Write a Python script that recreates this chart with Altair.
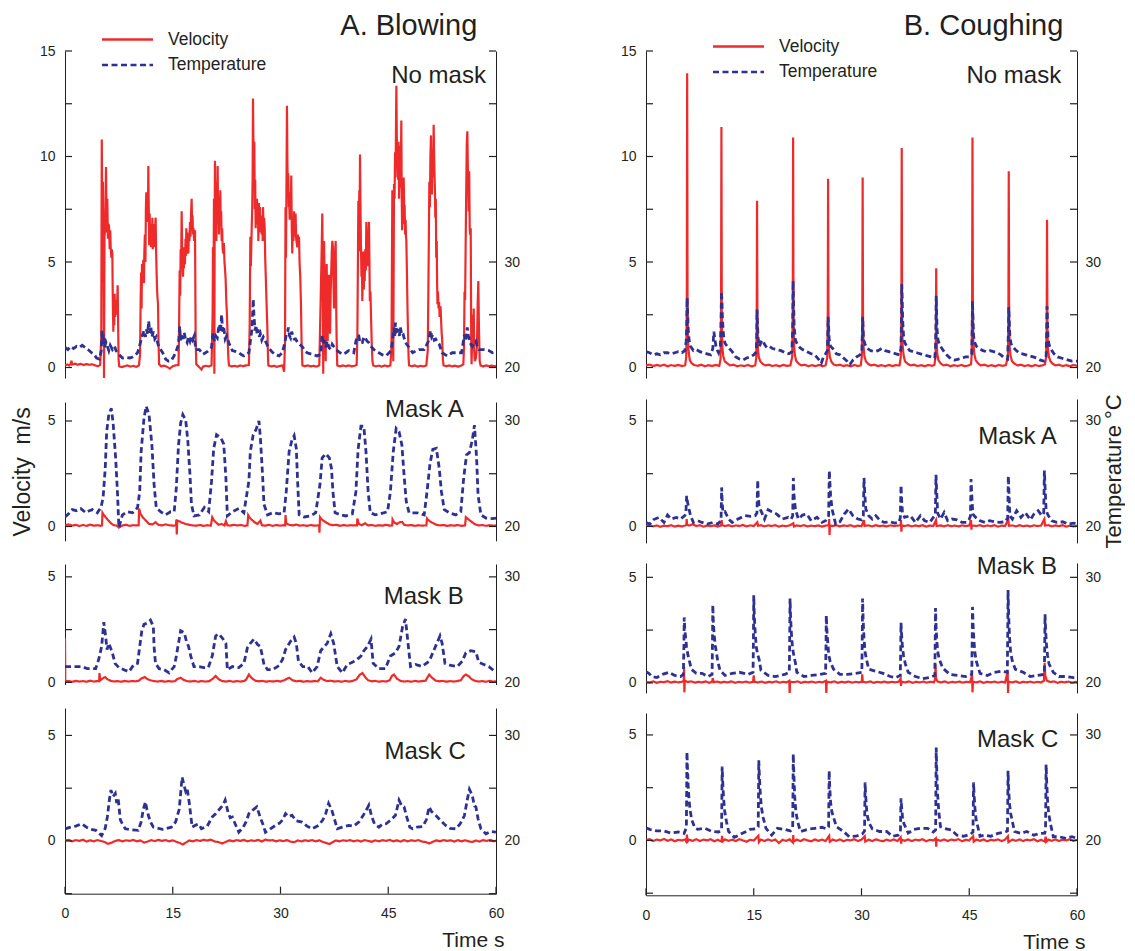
import altair as alt
import pandas as pd

FONT = "Liberation Sans"
INK = "#231f20"
RED = "#ee2a2b"
BLUE = "#2e3191"

SERIES = ["Velocity", "Temperature"]
COLUMN_TITLES = ["A. Blowing", "B. Coughing"]
PANEL_NAMES = ["No mask", "Mask A", "Mask B", "Mask C"]
TIME_TICKS = [0, 15, 30, 45, 60]
V_TICKS = [-2.5, 0, 2.5, 5, 7.5, 10, 12.5, 15]
V_LABELS = [0, 5, 10, 15]
T_LABELS = [20, 30]

# ---------------- A. Blowing ----------------
A_NM_V = [(0.0,0.10),(0.3,0.14),(0.6,0.10),(0.8,0.18),(0.9,0.32),(1.0,0.14),(1.4,0.18),(1.8,0.13),(2.2,0.17),(2.6,0.12),(3.0,0.16),(3.4,0.13),(3.8,0.15),(4.2,0.10),(4.6,0.06),(4.9,0.12),
(5.05,1.5),(5.12,10.8),(5.2,6.5),(5.28,8.8),(5.36,5.7),(5.43,-0.5),(5.5,6.2),(5.6,6.6),(5.71,9.5),(5.8,6.4),(5.89,8.0),(5.97,6.1),(6.05,6.8),(6.13,6.7),(6.22,5.6),(6.3,6.5),(6.36,5.7),(6.45,5.2),(6.52,5.6),(6.59,5.4),(6.66,3.0),(6.73,1.7),(6.8,3.0),(6.86,2.0),(6.91,3.5),(6.98,2.4),(7.05,3.2),(7.15,2.5),(7.25,3.0),(7.33,3.9),(7.4,2.0),(7.46,0.4),(7.55,0.05),
(7.9,0.02),(8.3,0.06),(8.7,0.1),(9.1,0.04),(9.5,0.08),(9.9,0.03),(10.3,0.1),
(10.45,0.6),(10.53,3.2),(10.6,4.5),(10.66,2.8),(10.72,4.9),(10.8,4.2),(10.9,5.1),(11.0,4.0),(11.04,5.4),(11.12,6.3),(11.2,5.0),(11.26,7.5),(11.32,8.3),(11.4,6.9),(11.48,8.0),(11.55,7.2),(11.6,9.55),(11.66,7.6),(11.72,5.8),(11.79,7.3),(11.85,6.2),(11.92,6.8),(11.97,5.7),(12.04,6.4),(12.1,5.9),(12.16,7.1),(12.22,5.6),(12.3,6.6),(12.39,6.1),(12.46,6.8),(12.52,5.7),(12.58,6.9),(12.62,7.1),(12.69,5.4),(12.76,4.4),(12.83,3.6),(12.9,3.2),(12.95,3.0),(13.02,1.2),(13.1,0.15),
(13.4,0.05),(13.8,0.09),(14.2,0.03),(14.6,-0.05),(15.0,0.06),(15.4,0.1),(15.8,0.12),
(15.87,1.5),(15.96,4.6),(16.04,3.4),(16.1,5.6),(16.17,4.9),(16.24,7.4),(16.3,5.8),(16.37,4.8),(16.43,4.3),(16.5,5.2),(16.55,4.7),(16.61,5.7),(16.7,4.9),(16.78,6.1),(16.84,5.3),(16.89,6.6),(16.96,5.8),(17.03,6.4),(17.1,5.5),(17.17,5.4),(17.24,6.3),(17.32,6.0),(17.4,6.9),(17.47,6.2),(17.55,7.3),(17.63,8.0),(17.7,6.5),(17.76,7.2),(17.82,6.3),(17.9,6.6),(17.97,6.0),(18.04,6.4),(18.1,6.5),(18.16,3.0),(18.19,1.3),(18.28,0.15),
(18.6,0.05),(19.0,-0.1),(19.2,0.04),(19.6,0.08),(20.0,0.05),(20.4,0.1),
(20.55,2.5),(20.6,5.7),(20.67,3.2),(20.74,8.0),(20.79,-0.3),(20.84,7.2),(20.88,9.8),(20.95,7.5),(21.01,8.8),(21.07,6.0),(21.14,7.9),(21.2,6.8),(21.25,9.55),(21.31,7.1),(21.38,8.1),(21.44,6.3),(21.5,7.5),(21.56,7.0),(21.62,8.4),(21.68,6.9),(21.74,7.4),(21.81,6.0),(21.88,6.6),(21.95,5.6),(22.04,5.4),(22.12,5.9),(22.2,5.0),(22.27,4.7),(22.36,4.2),(22.46,3.1),(22.55,2.5),(22.65,1.25),(22.75,0.4),(22.83,0.1),
(23.2,0.05),(23.6,0.08),(24.0,0.04),(24.4,0.1),(24.8,0.06),(25.2,0.1),(25.6,0.12),
(25.71,2.0),(25.8,6.2),(25.88,4.8),(25.99,6.6),(26.06,7.5),(26.12,9.0),(26.17,12.75),(26.22,11.0),(26.28,9.3),(26.36,10.7),(26.42,7.5),(26.48,8.9),(26.54,6.6),(26.6,7.2),(26.67,7.0),(26.73,8.0),(26.8,6.8),(26.86,7.5),(26.92,6.0),(27.0,7.8),(27.08,6.5),(27.15,7.6),(27.22,6.4),(27.3,7.0),(27.38,6.3),(27.45,7.2),(27.52,6.0),(27.57,7.6),(27.64,6.4),(27.72,7.1),(27.8,6.6),(27.87,5.2),(27.94,4.4),(28.02,3.5),(28.1,2.6),(28.17,1.9),(28.25,0.6),(28.31,0.1),
(28.7,0.05),(29.1,0.08),(29.5,0.03),(29.9,0.07),(30.3,0.1),(30.5,-0.2),
(30.63,1.2),(30.7,7.6),(30.76,5.2),(30.84,9.0),(30.9,12.4),(30.96,9.8),(31.02,8.2),(31.08,9.2),(31.15,7.6),(31.2,8.0),(31.28,7.0),(31.35,8.3),(31.42,7.1),(31.5,9.1),(31.57,6.6),(31.64,5.4),(31.72,6.9),(31.8,6.0),(31.88,7.4),(31.95,6.5),(32.03,6.2),(32.1,7.3),(32.18,6.1),(32.26,5.9),(32.34,5.7),(32.42,6.3),(32.5,5.8),(32.58,6.2),(32.66,4.9),(32.75,4.3),(32.85,3.0),(32.93,1.25),(33.05,0.1),
(33.4,0.06),(33.8,0.1),(34.2,0.05),(34.6,0.08),(35.0,0.04),(35.4,0.1),
(35.59,3.15),(35.7,5.0),(35.82,7.3),(35.9,3.5),(35.95,-0.3),(36.0,3.8),(36.06,6.0),(36.14,4.2),(36.2,2.0),(36.29,0.3),(36.36,3.0),(36.43,4.9),(36.5,2.5),(36.57,1.25),(36.63,3.0),(36.7,4.0),(36.75,4.4),(36.82,2.8),(36.9,1.6),(36.98,3.5),(37.06,4.5),(37.14,5.5),(37.22,6.0),(37.3,5.7),(37.38,4.0),(37.45,2.8),(37.52,4.5),(37.6,5.4),(37.68,6.0),(37.74,3.5),(37.8,1.6),(37.9,0.1),
(38.3,0.05),(38.7,0.1),(39.1,0.06),(39.5,0.1),(39.9,0.05),(40.3,0.08),(40.6,0.12),
(40.7,1.5),(40.76,4.2),(40.84,7.9),(40.9,5.5),(40.97,8.4),(41.02,6.9),(41.07,10.1),(41.13,7.8),(41.19,6.0),(41.27,4.3),(41.33,5.2),(41.39,3.15),(41.46,4.4),(41.52,5.5),(41.6,3.7),(41.66,5.1),(41.72,4.1),(41.8,5.6),(41.88,4.6),(41.95,6.9),(42.02,5.1),(42.1,5.5),(42.17,4.8),(42.24,6.2),(42.32,6.9),(42.38,5.0),(42.44,3.15),(42.52,3.6),(42.6,2.5),(42.69,1.25),(42.8,0.3),(42.9,0.1),
(43.3,0.05),(43.7,0.09),(44.1,0.04),(44.5,0.1),(44.9,0.05),(45.3,0.1),
(45.45,1.0),(45.57,8.4),(45.62,3.0),(45.7,0.3),(45.76,5.0),(45.8,8.7),(45.88,8.0),(45.95,10.2),(46.02,9.0),(46.08,11.5),(46.13,13.35),(46.19,11.0),(46.25,9.8),(46.3,10.1),(46.38,8.9),(46.44,10.7),(46.5,8.0),(46.57,9.5),(46.63,8.5),(46.7,10.5),(46.76,9.6),(46.82,11.7),(46.88,8.0),(46.93,6.5),(46.99,7.8),(47.05,6.8),(47.1,8.5),(47.15,9.0),(47.22,7.6),(47.28,7.7),(47.35,6.3),(47.42,7.0),(47.47,6.2),(47.52,6.0),(47.6,4.5),(47.68,2.8),(47.76,1.5),(47.83,0.5),(47.89,0.1),
(48.3,0.06),(48.7,0.1),(49.1,0.04),(49.5,0.08),(49.9,0.05),(50.3,0.1),
(50.5,0.8),(50.58,3.5),(50.65,6.0),(50.72,8.8),(50.8,7.6),(50.87,10.0),(50.95,11.0),(51.02,9.2),(51.08,8.2),(51.14,9.6),(51.2,10.3),(51.26,9.0),(51.32,11.5),(51.38,10.2),(51.44,9.15),(51.5,8.4),(51.55,7.1),(51.62,8.0),(51.68,5.2),(51.75,6.0),(51.8,4.1),(51.85,3.0),(51.92,3.6),(52.0,2.8),(52.08,3.1),(52.15,2.4),(52.2,2.5),(52.28,2.9),(52.36,2.2),(52.44,1.6),(52.52,1.25),(52.6,0.4),(52.7,0.1),
(53.1,0.06),(53.5,0.1),(53.9,0.05),(54.3,0.09),(54.7,0.04),(55.1,0.08),(55.45,0.15),
(55.55,1.0),(55.62,3.6),(55.7,3.2),(55.78,6.0),(55.85,8.2),(55.93,10.6),(56.01,11.2),(56.08,9.5),(56.14,8.6),(56.2,7.4),(56.27,9.3),(56.34,6.6),(56.4,6.3),(56.48,6.6),(56.55,1.25),(56.6,0.15),(56.7,1.8),(56.78,2.5),(56.84,1.2),(56.9,2.8),(56.96,0.8),(57.05,0.3),(57.2,0.45),(57.35,1.0),(57.45,3.0),(57.54,4.1),(57.62,2.0),(57.73,0.3),(57.85,0.1),
(58.2,0.05),(58.6,0.1),(59.0,0.06),(59.4,0.09),(59.8,0.05),(60.0,0.08)]

A_NM_T = [(0.0,21.9),(0.4,21.7),(0.8,22.0),(1.2,21.8),(1.6,22.0),(2.0,21.9),(2.4,22.1),(2.8,21.9),(3.2,21.7),(3.7,21.4),(4.1,21.2),(4.4,20.9),(4.8,20.8),(5.05,21.6),(5.15,23.5),(5.25,22.5),(5.35,23.2),(5.5,21.9),(5.7,22.4),(5.9,22.0),(6.1,21.6),(6.3,22.1),(6.6,21.7),(6.9,22.0),(7.1,21.6),(7.5,21.25),(8.0,20.9),(8.5,20.95),(9.0,20.9),(9.4,21.0),(9.8,21.2),(10.1,21.4),(10.5,22.35),(10.8,23.1),(11.0,23.5),(11.2,22.9),(11.35,23.6),(11.5,23.2),(11.65,24.4),(11.8,23.3),(11.95,23.9),(12.1,22.9),(12.3,23.4),(12.5,22.7),(12.7,22.9),(12.9,22.3),(13.1,21.9),(13.6,21.4),(14.0,20.8),(14.4,20.6),(14.7,20.6),(15.1,21.0),(15.4,21.4),(15.8,22.2),(15.96,23.9),(16.1,22.6),(16.3,23.2),(16.45,22.7),(16.6,23.3),(16.8,22.6),(17.0,22.35),(17.2,22.9),(17.4,22.5),(17.55,22.9),(17.75,22.6),(18.0,23.0),(18.2,21.7),(18.7,21.7),(19.2,21.25),(19.8,21.5),(20.4,21.9),(20.6,23.3),(20.8,22.5),(21.0,23.0),(21.2,22.8),(21.35,23.6),(21.5,24.1),(21.65,23.3),(21.8,25.0),(21.95,23.4),(22.1,23.8),(22.3,22.7),(22.5,23.0),(22.8,22.35),(23.3,21.6),(23.8,21.5),(24.2,21.4),(24.6,21.2),(24.9,21.1),(25.3,21.3),(25.6,21.4),(26.0,23.5),(26.1,24.8),(26.2,26.5),(26.3,25.0),(26.45,23.5),(26.6,24.0),(26.75,23.1),(26.9,23.6),(27.05,22.9),(27.2,23.2),(27.4,22.6),(27.6,22.9),(27.9,22.5),(28.1,22.2),(28.3,21.9),(28.8,21.5),(29.2,21.25),(29.8,21.1),(30.25,21.4),(30.6,22.35),(30.8,23.1),(31.0,23.4),(31.1,23.8),(31.25,23.0),(31.4,22.8),(31.55,23.4),(31.7,23.1),(31.9,22.7),(32.1,22.7),(32.35,22.4),(32.6,22.2),(33.0,22.0),(33.4,21.6),(33.7,21.4),(34.4,21.25),(35.1,21.1),(35.6,21.25),(35.8,23.1),(35.95,22.2),(36.1,22.6),(36.3,21.9),(36.5,22.5),(36.75,21.9),(37.0,21.7),(37.2,22.2),(37.4,22.0),(37.65,21.8),(37.9,21.6),(38.6,21.25),(39.1,21.4),(39.5,21.6),(40.2,21.4),(40.5,22.5),(40.7,23.0),(40.9,23.0),(41.1,22.3),(41.4,22.35),(41.6,22.9),(41.8,22.8),(42.05,22.5),(42.3,22.35),(42.6,22.0),(43.0,21.7),(43.7,21.4),(44.2,21.2),(44.7,21.1),(45.4,21.6),(45.6,22.6),(45.8,23.8),(45.9,23.0),(46.0,24.25),(46.2,23.4),(46.4,23.5),(46.55,23.0),(46.7,23.8),(46.9,23.0),(47.1,23.1),(47.25,22.7),(47.4,22.35),(47.9,21.9),(48.4,21.4),(48.9,21.6),(49.3,21.7),(50.0,21.7),(50.6,22.5),(50.75,23.0),(50.9,23.5),(51.05,22.9),(51.2,23.1),(51.4,22.6),(51.6,22.7),(51.85,22.4),(52.1,22.2),(52.5,21.4),(53.2,21.1),(53.9,21.4),(54.6,21.4),(55.2,21.4),(55.6,23.1),(55.8,22.5),(56.0,23.8),(56.15,23.0),(56.3,22.7),(56.5,22.2),(56.7,22.0),(56.95,22.3),(57.2,22.5),(57.4,21.9),(57.6,21.7),(58.3,21.7),(59.0,21.6),(59.5,21.4),(60.0,21.5)]

A_MA_V = [(0.0,0.05),(0.5,0.1),(1.0,0.04),(1.5,0.08),(2.0,0.02),(2.5,0.07),(3.0,0.03),(3.5,0.09),(4.0,0.04),(4.5,0.06),(5.0,0.03),(5.15,0.05),(5.22,0.65),(5.4,0.55),(5.7,0.42),(6.0,0.3),(6.4,0.15),(6.8,0.06),(7.2,0.04),(7.5,-0.05),(8.0,0.05),(8.5,0.08),(9.0,0.03),(9.5,0.06),(10.0,0.05),(10.25,0.06),(10.32,0.85),(10.5,0.6),(10.8,0.45),(11.2,0.3),(11.7,0.12),(12.2,0.1),(12.6,0.2),(13.0,0.08),(13.5,0.05),(14.0,0.1),(14.5,0.06),(15.0,0.04),(15.45,0.05),(15.5,0.33),(15.56,-0.38),(15.62,0.28),(15.9,0.25),(16.3,0.18),(16.8,0.12),(17.3,0.08),(17.8,0.05),(18.3,0.04),(18.8,0.07),(19.3,0.03),(19.8,0.06),(20.3,0.04),(20.5,0.44),(20.7,0.3),(21.0,0.2),(21.4,0.08),(21.8,0.12),(22.2,0.05),(22.4,0.25),(22.6,0.06),(23.0,0.04),(23.5,0.08),(24.0,0.05),(24.5,0.07),(25.0,0.03),(25.4,0.05),(25.5,0.54),(25.7,0.42),(26.0,0.32),(26.4,0.2),(26.8,0.12),(27.2,0.28),(27.4,0.06),(27.9,0.04),(28.4,0.08),(28.9,0.03),(29.4,0.07),(29.9,0.04),(30.4,0.06),(30.65,0.05),(30.7,0.54),(30.8,0.15),(31.2,0.08),(31.7,0.05),(32.2,0.09),(32.7,0.04),(33.2,0.06),(33.7,0.03),(34.2,0.07),(34.7,0.04),(35.2,0.05),(35.38,0.06),(35.42,-0.3),(35.5,0.44),(35.7,0.35),(36.0,0.27),(36.4,0.18),(36.8,0.1),(37.3,0.06),(37.8,0.08),(38.3,0.03),(38.8,0.07),(39.3,0.04),(39.8,0.06),(40.3,0.05),(40.65,0.05),(40.7,0.38),(40.9,0.12),(41.3,0.06),(41.8,0.15),(42.2,0.05),(42.7,0.07),(43.2,0.03),(43.7,0.06),(44.2,0.04),(44.7,0.08),(45.2,0.04),(45.55,0.05),(45.6,0.33),(45.8,0.2),(46.2,0.12),(46.6,0.2),(46.95,0.22),(47.2,0.08),(47.7,0.05),(48.2,0.07),(48.7,0.03),(49.2,0.06),(49.7,0.04),(50.3,0.05),(50.4,0.38),(50.6,0.3),(50.9,0.22),(51.3,0.15),(51.7,0.08),(52.2,0.05),(52.7,0.07),(53.2,0.03),(53.7,0.06),(54.2,0.04),(54.7,0.07),(55.2,0.03),(55.7,0.05),(55.8,0.44),(56.0,0.38),(56.3,0.3),(56.7,0.2),(57.1,0.1),(57.6,0.05),(58.1,0.07),(58.6,0.03),(59.1,0.06),(59.6,0.04),(60.0,0.05)]

A_MA_T = [(0.0,20.9),(0.5,21.2),(1.0,21.6),(1.6,21.5),(2.2,21.7),(2.9,21.3),(3.4,21.5),(3.8,21.6),(4.5,21.3),(5.0,21.8),(5.3,22.7),(5.6,25.5),(5.8,29.0),(6.1,30.6),(6.45,31.2),(6.7,29.8),(7.05,26.5),(7.3,23.3),(7.5,19.9),(8.0,21.1),(8.7,21.4),(9.4,21.3),(10.1,21.8),(10.4,23.3),(10.6,27.1),(11.0,30.3),(11.3,31.4),(11.7,30.6),(12.1,27.7),(12.4,24.0),(12.7,21.8),(13.3,21.4),(14.0,21.1),(14.7,21.4),(15.2,21.4),(15.5,23.7),(15.8,27.7),(16.1,29.8),(16.4,30.6),(16.8,30.1),(17.1,28.1),(17.4,24.9),(17.6,22.1),(17.96,21.0),(18.7,21.1),(19.4,21.8),(20.0,21.4),(20.4,24.3),(20.7,27.4),(21.1,28.7),(21.7,28.4),(22.1,27.8),(22.4,24.6),(22.6,21.0),(23.3,21.4),(24.2,21.7),(24.9,21.3),(25.6,24.3),(25.8,27.1),(26.2,28.7),(26.6,29.2),(27.0,30.0),(27.2,28.4),(27.5,24.9),(27.7,22.1),(28.2,21.1),(28.9,21.3),(29.8,21.2),(30.5,21.3),(30.8,23.3),(31.2,27.1),(31.6,28.2),(31.9,28.6),(32.2,27.4),(32.4,24.0),(32.6,21.1),(33.3,20.9),(34.2,21.0),(34.9,21.3),(35.5,24.0),(35.8,26.5),(36.3,26.9),(36.8,26.5),(37.1,25.5),(37.3,23.3),(37.6,21.3),(38.4,21.1),(39.1,21.0),(40.0,21.2),(40.5,23.3),(40.8,27.3),(41.2,29.5),(41.6,29.5),(41.9,27.1),(42.2,23.3),(42.5,21.3),(43.2,21.1),(43.9,21.2),(44.9,21.4),(45.3,23.3),(45.7,27.1),(46.1,29.3),(46.5,29.0),(46.9,27.7),(47.2,24.9),(47.5,22.4),(47.9,21.3),(49.0,21.3),(50.0,21.1),(50.4,23.3),(50.8,25.9),(51.2,27.3),(51.7,27.4),(52.1,25.5),(52.4,23.3),(52.8,21.6),(53.5,21.3),(54.4,21.1),(55.1,21.4),(55.5,24.6),(55.9,26.8),(56.3,27.0),(56.7,28.2),(57.0,29.6),(57.3,26.5),(57.5,23.0),(57.9,21.1),(58.6,20.8),(59.5,20.75),(60.0,20.8)]

A_MB_V = [(0.0,2.1),(0.04,0.05),(0.5,0.06),(1.0,0.03),(1.5,0.07),(2.0,0.04),(2.5,0.06),(3.0,0.03),(3.5,0.08),(4.0,0.04),(4.5,0.06),(4.75,0.05),(4.8,0.44),(4.9,0.1),(5.3,0.2),(5.6,0.25),(5.9,0.15),(6.3,0.08),(6.8,0.04),(7.3,0.06),(7.8,0.03),(8.3,0.07),(8.8,0.04),(9.3,0.06),(9.8,0.05),(10.3,0.08),(10.6,0.18),(11.1,0.25),(11.5,0.15),(11.9,0.1),(12.4,0.06),(12.9,0.04),(13.4,0.07),(13.9,0.03),(14.4,0.06),(14.9,0.04),(15.3,0.06),(15.6,0.15),(16.1,0.22),(16.5,0.12),(17.0,0.06),(17.5,0.04),(18.0,0.07),(18.5,0.03),(19.0,0.06),(19.5,0.04),(20.0,0.05),(20.5,0.15),(20.97,0.3),(21.4,0.15),(21.9,0.06),(22.4,0.04),(22.9,0.07),(23.4,0.03),(23.9,0.06),(24.4,0.04),(24.9,0.06),(25.2,0.12),(25.6,0.37),(26.0,0.2),(26.5,0.08),(27.0,0.05),(27.5,0.07),(28.0,0.03),(28.5,0.06),(29.0,0.04),(29.5,0.07),(30.0,0.04),(30.5,0.1),(31.2,0.22),(31.7,0.1),(32.2,0.05),(32.7,0.07),(33.2,0.03),(33.7,0.06),(34.2,0.04),(34.7,0.06),(35.2,0.05),(35.6,0.22),(36.0,0.12),(36.5,0.06),(37.0,0.08),(37.5,0.04),(38.0,0.06),(38.5,0.03),(39.0,0.07),(39.5,0.04),(40.0,0.06),(40.6,0.15),(41.0,0.35),(41.4,0.44),(41.8,0.25),(42.2,0.1),(42.7,0.05),(43.2,0.07),(43.7,0.03),(44.2,0.06),(44.7,0.04),(45.2,0.1),(45.5,0.3),(45.8,0.37),(46.2,0.18),(46.7,0.07),(47.2,0.04),(47.7,0.06),(48.2,0.03),(48.7,0.07),(49.2,0.04),(49.7,0.06),(50.2,0.08),(50.7,0.37),(51.1,0.22),(51.6,0.08),(52.1,0.05),(52.6,0.07),(53.1,0.03),(53.6,0.06),(54.1,0.04),(54.6,0.06),(55.1,0.1),(55.5,0.3),(55.8,0.37),(56.2,0.3),(56.6,0.15),(57.1,0.07),(57.6,0.04),(58.1,0.06),(58.6,0.03),(59.1,0.07),(59.6,0.04),(60.0,0.05)]

A_MB_T = [(0.0,21.5),(1.1,21.5),(2.3,21.5),(3.1,21.3),(4.27,21.3),(4.7,22.2),(5.1,23.4),(5.4,25.7),(5.6,24.7),(5.85,23.1),(6.1,23.7),(6.6,22.8),(6.96,21.8),(7.5,21.4),(8.2,21.2),(8.9,21.0),(9.6,21.7),(10.1,21.8),(10.4,23.4),(10.7,24.9),(11.0,25.5),(11.5,25.65),(11.9,25.9),(12.3,25.3),(12.4,23.4),(12.6,21.8),(13.1,21.3),(13.8,21.2),(14.5,20.9),(15.2,21.5),(15.5,22.5),(15.9,24.1),(16.1,24.9),(16.6,24.7),(16.9,23.9),(17.2,23.4),(17.5,22.5),(17.95,21.5),(18.7,21.5),(19.3,21.4),(19.95,21.4),(20.5,22.5),(20.97,24.4),(21.4,24.6),(21.9,24.2),(22.4,23.7),(22.6,21.2),(23.3,21.5),(24.2,21.4),(24.9,21.8),(25.4,23.3),(25.8,23.7),(26.3,24.1),(26.8,23.6),(27.2,23.4),(27.7,21.7),(28.2,21.2),(28.9,21.2),(29.8,21.6),(30.3,22.2),(30.7,23.1),(31.4,23.9),(31.9,24.3),(32.2,23.7),(32.5,22.0),(33.1,21.5),(33.8,21.5),(34.4,20.9),(35.1,21.5),(35.6,23.0),(36.1,23.4),(36.5,23.7),(37.0,24.6),(37.4,23.7),(37.9,21.5),(38.6,20.9),(39.3,21.7),(40.0,21.9),(40.7,22.2),(41.2,22.5),(41.6,23.0),(42.1,23.4),(42.6,24.1),(42.9,21.8),(43.7,21.3),(44.6,21.3),(45.3,22.5),(46.0,22.8),(46.5,23.4),(47.0,25.3),(47.4,26.0),(47.8,23.4),(48.1,21.5),(48.8,21.7),(49.7,21.5),(50.7,22.0),(51.2,22.8),(51.7,23.6),(52.2,24.4),(52.5,23.7),(52.9,21.8),(53.7,21.6),(54.6,21.5),(55.3,22.0),(55.8,22.8),(56.5,23.0),(57.2,22.9),(57.6,21.9),(58.3,21.7),(59.0,21.5),(59.9,21.0)]

A_MC_V = [(0.0,0.02),(0.5,0.05),(1.0,-0.02),(1.5,0.04),(2.0,0.0),(2.5,0.06),(3.0,-0.03),(3.5,0.03),(4.0,-0.02),(4.5,0.04),(5.0,0.0),(5.5,-0.05),(6.0,-0.14),(6.5,-0.08),(7.0,0.0),(7.5,0.04),(8.0,-0.02),(8.5,0.03),(9.0,0.0),(9.5,0.05),(10.0,-0.02),(10.5,0.02),(11.0,-0.08),(11.5,-0.03),(12.0,0.04),(12.5,-0.01),(13.0,0.05),(13.5,0.0),(14.0,0.04),(14.5,-0.02),(15.0,0.03),(15.5,-0.04),(16.0,-0.1),(16.4,-0.17),(16.8,-0.08),(17.3,0.02),(17.8,-0.02),(18.3,0.04),(18.8,0.0),(19.3,0.05),(19.8,0.02),(20.3,0.06),(20.8,-0.02),(21.3,-0.05),(21.9,-0.12),(22.4,-0.04),(22.9,0.03),(23.4,-0.02),(23.9,0.04),(24.4,0.0),(24.9,0.05),(25.4,-0.02),(25.9,0.03),(26.4,0.0),(26.9,0.05),(27.4,-0.03),(27.9,0.06),(28.4,0.02),(28.9,0.04),(29.4,-0.02),(29.9,0.03),(30.4,-0.01),(30.9,0.04),(31.4,-0.03),(31.9,-0.06),(32.4,0.02),(32.9,-0.02),(33.4,0.03),(33.9,0.0),(34.4,0.04),(34.9,-0.02),(35.4,0.03),(35.9,-0.05),(36.4,-0.1),(36.8,-0.15),(37.2,-0.07),(37.7,0.02),(38.2,-0.02),(38.7,0.03),(39.2,0.0),(39.7,0.04),(40.2,-0.02),(40.7,0.03),(41.2,-0.03),(41.7,0.04),(42.2,0.0),(42.7,-0.04),(43.2,0.03),(43.7,-0.02),(44.2,0.04),(44.7,0.0),(45.2,0.05),(45.7,-0.02),(46.2,0.03),(46.7,-0.03),(47.2,0.04),(47.7,-0.02),(48.2,0.03),(48.7,0.0),(49.2,0.04),(49.7,-0.03),(50.2,-0.05),(50.7,-0.12),(51.2,-0.04),(51.7,0.03),(52.2,-0.02),(52.7,0.04),(53.2,0.0),(53.7,0.03),(54.2,-0.03),(54.7,0.04),(55.2,-0.02),(55.7,0.03),(56.2,-0.02),(56.7,-0.05),(57.2,0.02),(57.7,-0.03),(58.2,0.04),(58.7,0.0),(59.2,0.05),(59.7,-0.02),(60.0,0.02)]

A_MC_T = [(0.0,21.15),(0.8,21.3),(1.5,21.4),(2.3,21.63),(3.0,21.3),(3.6,21.1),(4.3,21.0),(5.1,20.5),(5.6,21.2),(5.9,22.3),(6.2,24.0),(6.4,24.82),(6.7,24.2),(7.0,24.5),(7.2,23.6),(7.4,24.03),(7.7,22.0),(8.0,21.6),(8.4,21.15),(9.3,21.05),(10.2,21.0),(10.6,21.8),(10.9,23.0),(11.2,23.71),(11.4,23.0),(11.6,22.43),(11.9,21.8),(12.3,21.31),(13.0,21.2),(13.6,21.1),(14.0,21.15),(14.8,21.3),(15.4,21.8),(15.9,23.0),(16.3,26.04),(16.6,25.2),(16.8,24.7),(17.0,24.98),(17.3,23.6),(17.7,21.31),(18.2,21.5),(18.6,21.6),(19.0,21.15),(19.8,21.4),(20.5,22.27),(21.0,22.6),(21.5,23.0),(22.0,23.4),(22.3,23.87),(22.7,22.7),(23.0,22.2),(23.3,22.27),(23.7,21.6),(24.2,20.83),(24.8,21.3),(25.2,21.8),(25.6,22.59),(26.1,22.9),(26.7,23.23),(27.2,22.2),(27.6,21.5),(27.9,20.83),(28.5,21.1),(29.3,21.47),(29.9,21.7),(30.3,22.0),(30.7,22.59),(31.1,22.3),(31.6,22.43),(32.2,21.9),(33.0,21.79),(33.7,21.4),(34.4,21.15),(35.3,21.47),(35.9,22.0),(36.3,22.6),(36.7,23.55),(37.1,23.0),(37.5,22.1),(37.9,21.15),(38.6,21.3),(39.5,21.47),(40.2,21.4),(40.9,21.79),(41.5,22.4),(42.0,23.0),(42.3,23.39),(42.7,22.3),(43.1,21.6),(43.7,21.31),(44.2,21.6),(44.7,21.63),(45.4,22.0),(46.0,22.43),(46.5,23.87),(46.9,23.3),(47.2,23.23),(47.6,22.2),(48.0,21.3),(48.4,21.15),(49.0,21.3),(49.8,21.37),(50.3,22.0),(50.7,23.23),(51.0,22.8),(51.6,22.43),(52.2,22.0),(53.0,21.47),(53.6,21.2),(54.4,21.15),(55.0,21.6),(55.6,22.4),(56.0,23.9),(56.3,24.89),(56.7,24.3),(57.0,23.3),(57.2,23.23),(57.5,22.1),(57.9,21.15),(58.6,20.67),(59.3,20.9),(60.0,20.83)]

# ---------------- B. Coughing ----------------
B_NM_V = [(0.0,0.1),(0.5,0.14),(1.0,0.07),(1.5,0.12),(2.0,0.08),(2.5,0.13),(3.0,0.06),(3.5,0.11),(4.0,0.08),(4.5,0.12),(5.0,0.07),(5.45,0.1),(5.6,0.5),(5.68,3.0),(5.73,13.95),(5.78,3.5),(5.84,1.3),(5.95,0.7),(6.1,0.35),(6.35,0.2),(6.7,0.12),(7.2,0.08),(7.7,0.13),(8.2,0.06),(8.7,0.11),(9.2,0.07),(9.7,0.12),(10.2,0.08),(10.38,0.4),(10.45,2.5),(10.5,11.4),(10.55,2.8),(10.62,1.0),(10.75,0.55),(10.95,0.3),(11.3,0.2),(11.7,0.1),(12.2,0.13),(12.7,0.06),(13.2,0.1),(13.7,0.07),(14.2,0.12),(14.7,0.05),(15.2,0.1),(15.35,0.45),(15.41,2.0),(15.46,7.9),(15.51,2.4),(15.58,0.9),(15.7,0.5),(15.9,0.3),(16.2,0.18),(16.6,0.1),(17.1,0.13),(17.6,0.07),(18.1,0.11),(18.6,0.06),(19.1,0.12),(19.6,0.08),(20.1,0.1),(20.35,0.5),(20.43,2.6),(20.48,10.9),(20.53,3.0),(20.6,1.1),(20.72,0.6),(20.9,0.32),(21.2,0.2),(21.6,0.1),(22.1,0.13),(22.6,0.06),(23.1,0.11),(23.6,0.07),(24.1,0.12),(24.6,0.06),(25.0,0.1),(25.22,0.45),(25.3,2.2),(25.35,8.95),(25.4,2.5),(25.47,0.9),(25.6,0.5),(25.8,0.28),(26.1,0.15),(26.5,0.1),(27.0,0.13),(27.5,0.07),(28.0,0.11),(28.5,0.05),(29.0,0.12),(29.5,0.07),(29.9,0.1),(30.04,0.5),(30.11,2.3),(30.16,9.0),(30.21,2.6),(30.28,1.0),(30.4,0.55),(30.6,0.3),(30.9,0.18),(31.3,0.1),(31.8,0.13),(32.3,0.07),(32.8,0.11),(33.3,0.06),(33.8,0.12),(34.3,0.07),(34.8,0.11),(35.3,0.1),(35.47,0.5),(35.55,2.5),(35.6,10.4),(35.65,2.9),(35.72,1.1),(35.85,0.6),(36.05,0.3),(36.4,0.18),(36.8,0.1),(37.3,0.13),(37.8,0.07),(38.3,0.11),(38.8,0.06),(39.3,0.12),(39.8,0.08),(40.15,0.12),(40.3,0.5),(40.36,1.6),(40.4,4.7),(40.45,1.5),(40.53,0.7),(40.7,0.35),(41.0,0.2),(41.4,0.1),(41.9,0.13),(42.4,0.06),(42.9,0.11),(43.4,0.07),(43.9,0.12),(44.4,0.06),(44.9,0.1),(45.25,0.15),(45.33,0.6),(45.4,2.8),(45.45,10.9),(45.5,3.2),(45.57,1.2),(45.7,0.65),(45.9,0.35),(46.2,0.2),(46.6,0.1),(47.1,0.13),(47.6,0.07),(48.1,0.11),(48.6,0.06),(49.1,0.12),(49.6,0.08),(50.1,0.11),(50.38,0.5),(50.45,2.4),(50.5,9.3),(50.55,2.7),(50.62,1.0),(50.75,0.55),(50.95,0.3),(51.3,0.18),(51.7,0.1),(52.2,0.13),(52.7,0.07),(53.2,0.11),(53.7,0.06),(54.2,0.12),(54.7,0.07),(55.2,0.1),(55.55,0.15),(55.7,0.5),(55.78,2.0),(55.83,7.0),(55.88,2.2),(55.95,0.9),(56.1,0.5),(56.3,0.3),(56.6,0.18),(57.0,0.1),(57.5,0.13),(58.0,0.07),(58.5,0.11),(59.0,0.06),(59.5,0.12),(60.0,0.08)]

B_NM_T = [(0.0,21.5),(0.5,21.4),(1.0,21.2),(1.5,21.3),(2.0,21.2),(2.5,21.4),(3.0,21.4),(3.5,21.3),(4.0,21.4),(4.5,21.5),(5.0,21.4),(5.4,21.6),(5.6,22.5),(5.68,24.0),(5.73,26.6),(5.8,25.0),(5.88,23.6),(6.0,22.6),(6.2,22.0),(6.6,21.6),(7.0,21.7),(7.5,21.5),(8.0,21.4),(8.5,21.3),(9.0,21.2),(9.3,21.8),(9.45,23.4),(9.6,22.6),(9.8,21.8),(10.1,21.4),(10.35,22.0),(10.45,24.5),(10.5,27.2),(10.57,26.4),(10.65,24.5),(10.8,23.0),(11.0,22.3),(11.3,22.0),(11.6,21.8),(12.0,21.5),(12.5,21.0),(13.0,20.8),(13.5,20.7),(14.0,20.9),(14.5,21.0),(15.0,21.2),(15.35,21.5),(15.42,23.0),(15.46,25.5),(15.52,24.2),(15.6,22.8),(15.8,22.0),(16.0,22.4),(16.2,22.6),(16.5,22.2),(16.8,21.9),(17.2,22.0),(17.6,21.8),(18.2,21.7),(18.8,21.6),(19.4,21.4),(19.9,21.3),(20.3,21.5),(20.42,23.5),(20.48,28.2),(20.55,26.0),(20.63,23.8),(20.8,22.6),(21.0,22.3),(21.4,21.9),(21.8,21.7),(22.4,21.5),(23.0,21.3),(23.5,21.2),(24.0,20.8),(24.4,20.4),(24.7,21.0),(25.0,21.3),(25.25,21.6),(25.31,23.2),(25.35,24.8),(25.42,23.8),(25.5,22.7),(25.7,22.0),(26.0,21.8),(26.5,21.3),(27.0,21.2),(27.5,20.9),(28.0,20.6),(28.4,20.3),(28.8,20.7),(29.3,21.0),(29.8,21.2),(30.06,21.5),(30.12,23.2),(30.16,24.8),(30.22,23.6),(30.3,22.6),(30.5,22.2),(30.8,21.8),(31.3,21.6),(31.8,21.5),(32.3,21.6),(32.8,21.8),(33.3,21.6),(33.8,21.5),(34.3,21.4),(34.8,21.3),(35.3,21.2),(35.5,21.8),(35.56,24.5),(35.6,27.9),(35.66,26.6),(35.73,24.5),(35.85,23.0),(36.0,22.4),(36.3,22.0),(36.7,21.6),(37.2,21.5),(37.7,21.4),(38.2,21.3),(38.7,21.2),(39.2,21.1),(39.7,21.0),(40.2,20.9),(40.3,21.8),(40.36,24.0),(40.4,26.8),(40.46,25.2),(40.53,23.5),(40.65,22.6),(40.85,22.2),(41.2,21.8),(41.6,21.4),(42.0,21.1),(42.5,20.8),(43.0,20.7),(43.5,20.8),(44.0,20.9),(44.5,21.0),(45.0,21.0),(45.35,21.3),(45.41,23.5),(45.45,26.3),(45.51,24.8),(45.6,23.0),(45.75,22.4),(46.0,22.0),(46.4,21.8),(46.9,21.6),(47.4,21.5),(47.9,21.6),(48.4,21.5),(48.9,21.4),(49.4,21.2),(49.9,20.9),(50.35,20.8),(50.45,23.5),(50.5,25.7),(50.56,24.6),(50.65,23.0),(50.8,22.3),(51.0,22.0),(51.4,21.7),(51.9,21.4),(52.4,21.3),(52.9,21.2),(53.4,21.1),(53.9,21.0),(54.4,20.9),(54.9,20.7),(55.4,20.6),(55.7,21.0),(55.78,23.4),(55.83,25.8),(55.89,24.4),(55.97,22.8),(56.1,22.2),(56.4,21.7),(56.8,21.3),(57.3,21.0),(57.8,20.9),(58.3,20.8),(58.8,20.7),(59.3,20.6),(59.8,20.6),(60.0,20.6)]

B_MA_V = [(0.0,0.03),(0.5,0.06),(1.0,0.0),(1.5,0.05),(2.0,-0.02),(2.5,0.04),(3.0,0.01),(3.5,0.06),(4.0,-0.01),(4.5,0.04),(5.0,0.0),(5.5,0.05),(5.62,0.1),(5.66,0.35),(5.72,0.08),(6.0,0.04),(6.5,0.1),(7.0,0.02),(7.5,0.06),(8.0,-0.01),(8.5,0.04),(9.0,0.01),(9.5,0.05),(10.0,-0.01),(10.45,0.05),(10.53,0.3),(10.6,0.06),(11.0,0.02),(11.5,0.06),(12.0,0.0),(12.5,0.05),(13.0,0.02),(13.5,0.07),(14.0,0.0),(14.5,0.05),(15.0,0.02),(15.5,0.2),(15.6,0.03),(16.0,0.06),(16.5,0.0),(17.0,0.05),(17.5,0.02),(18.0,0.06),(18.5,-0.01),(19.0,0.04),(19.5,0.01),(20.0,0.05),(20.51,0.15),(20.6,0.0),(21.0,0.05),(21.5,0.02),(22.0,0.06),(22.5,0.0),(23.0,0.04),(23.5,0.01),(24.0,0.05),(24.5,-0.01),(25.0,0.04),(25.45,0.05),(25.5,0.35),(25.55,-0.4),(25.62,0.05),(26.0,0.02),(26.5,0.06),(27.0,0.0),(27.5,0.05),(28.0,0.02),(28.5,0.06),(29.0,-0.01),(29.5,0.04),(30.0,0.01),(30.35,0.3),(30.42,0.03),(31.0,0.05),(31.5,0.0),(32.0,0.06),(32.5,0.01),(33.0,0.04),(33.5,0.0),(34.0,0.05),(34.5,0.02),(35.0,0.04),(35.45,0.05),(35.5,0.3),(35.55,-0.25),(35.62,0.05),(36.0,0.02),(36.5,0.06),(37.0,0.0),(37.5,0.05),(38.0,0.01),(38.5,0.06),(39.0,-0.01),(39.5,0.04),(40.0,0.02),(40.37,0.3),(40.45,0.02),(41.0,0.05),(41.5,0.0),(42.0,0.06),(42.5,0.01),(43.0,0.04),(43.5,0.0),(44.0,0.05),(44.5,0.02),(45.0,0.04),(45.25,0.3),(45.3,-0.15),(45.36,0.05),(46.0,0.02),(46.5,0.06),(47.0,0.0),(47.5,0.05),(48.0,0.01),(48.5,0.06),(49.0,-0.01),(49.5,0.04),(50.0,0.02),(50.44,0.35),(50.52,0.03),(51.0,0.05),(51.5,0.0),(52.0,0.06),(52.5,0.01),(53.0,0.04),(53.5,0.0),(54.0,0.05),(54.5,0.02),(55.0,0.04),(55.46,0.35),(55.55,0.04),(56.0,0.06),(56.5,0.0),(57.0,0.05),(57.5,0.01),(58.0,0.06),(58.5,-0.01),(59.0,0.04),(59.5,0.0),(60.0,0.03)]

B_MA_T = [(0.0,20.38),(0.5,20.22),(1.0,20.63),(1.8,20.86),(2.5,20.38),(3.0,21.08),(3.5,20.7),(4.2,20.86),(4.8,20.7),(5.4,21.02),(5.55,21.2),(5.66,22.9),(5.75,22.4),(5.9,21.9),(6.2,21.02),(6.6,20.38),(7.2,20.54),(7.8,20.38),(8.5,20.22),(9.3,20.38),(10.0,20.22),(10.45,20.6),(10.53,23.7),(10.6,22.5),(10.7,21.33),(11.0,21.4),(11.5,20.7),(12.0,20.38),(12.8,20.7),(13.3,20.86),(13.8,21.02),(14.6,20.95),(15.2,21.02),(15.45,21.3),(15.55,24.4),(15.62,23.0),(15.75,21.81),(16.0,21.49),(16.5,20.7),(17.0,21.59),(17.5,21.4),(18.2,21.17),(19.0,20.7),(19.8,20.86),(20.2,20.7),(20.42,21.0),(20.51,24.6),(20.6,23.0),(20.8,21.65),(21.2,20.7),(21.8,21.08),(22.4,21.17),(23.0,20.54),(23.8,20.86),(24.5,20.38),(25.0,20.54),(25.42,21.0),(25.52,25.3),(25.6,24.2),(25.7,22.92),(25.9,21.65),(26.4,20.22),(27.0,20.44),(27.6,21.17),(28.2,21.65),(28.8,21.02),(29.5,20.7),(30.0,20.63),(30.25,21.0),(30.35,24.6),(30.45,23.2),(30.6,21.65),(31.0,21.02),(31.5,20.7),(32.0,21.02),(32.6,20.54),(33.2,20.38),(34.0,20.44),(34.6,20.32),(35.2,20.38),(35.4,20.8),(35.5,23.9),(35.58,22.6),(35.7,21.33),(36.0,20.86),(36.8,21.02),(37.5,20.38),(38.2,21.02),(38.8,20.54),(39.5,20.38),(40.0,20.86),(40.28,21.1),(40.37,24.9),(40.46,23.4),(40.6,21.27),(41.0,20.7),(41.5,21.33),(42.0,20.54),(42.6,20.7),(43.3,20.63),(44.0,20.38),(44.6,20.38),(45.0,20.7),(45.17,21.0),(45.25,24.5),(45.35,23.0),(45.5,21.17),(45.9,20.86),(46.5,20.54),(47.2,20.38),(47.8,20.54),(48.5,20.44),(49.2,20.38),(50.0,20.44),(50.35,20.8),(50.44,24.8),(50.52,23.3),(50.65,21.02),(51.0,20.7),(51.6,21.49),(52.2,20.86),(52.8,21.33),(53.5,20.63),(54.0,21.17),(54.6,21.49),(55.1,21.02),(55.37,21.3),(55.46,25.3),(55.55,23.8),(55.7,21.49),(56.0,21.02),(56.5,20.54),(57.2,20.38),(58.0,20.44),(58.8,20.22),(59.5,20.32),(60.0,20.22)]

B_MB_V = [(0.0,0.05),(0.5,0.02),(1.0,0.07),(1.5,0.0),(2.0,0.05),(2.5,0.03),(3.0,0.08),(3.5,0.01),(4.0,0.06),(4.5,0.02),(5.0,0.05),(5.25,0.1),(5.3,0.75),(5.34,-0.45),(5.4,0.1),(5.8,0.04),(6.3,0.07),(6.8,0.01),(7.3,0.05),(7.8,0.02),(8.3,0.07),(8.8,0.0),(9.2,0.05),(9.3,0.22),(9.4,0.03),(9.9,0.06),(10.4,0.01),(10.9,0.05),(11.4,0.02),(11.9,0.07),(12.4,0.0),(12.9,0.05),(13.4,0.02),(13.9,0.06),(14.4,0.01),(14.9,0.05),(15.0,0.35),(15.08,0.05),(15.6,0.02),(16.1,0.06),(16.6,0.0),(17.1,0.05),(17.6,0.02),(18.1,0.07),(18.6,0.01),(19.1,0.05),(19.6,0.02),(19.95,0.1),(20.0,-0.55),(20.06,0.05),(20.6,0.03),(21.1,0.07),(21.6,0.0),(22.1,0.05),(22.6,0.02),(23.1,0.06),(23.6,0.01),(24.1,0.05),(24.6,0.02),(25.05,0.1),(25.1,-0.5),(25.16,0.06),(25.7,0.02),(26.2,0.07),(26.7,0.0),(27.2,0.05),(27.7,0.02),(28.2,0.06),(28.7,0.01),(29.2,0.05),(29.7,0.02),(30.05,0.06),(30.1,0.4),(30.18,0.05),(30.7,0.02),(31.2,0.07),(31.7,0.0),(32.2,0.05),(32.7,0.02),(33.2,0.06),(33.7,0.01),(34.2,0.05),(34.7,0.02),(35.2,0.06),(35.45,0.2),(35.5,-0.15),(35.56,0.05),(36.1,0.02),(36.6,0.07),(37.1,0.0),(37.6,0.05),(38.1,0.02),(38.6,0.06),(39.1,0.01),(39.6,0.05),(40.1,0.03),(40.25,0.2),(40.3,0.9),(40.38,0.2),(40.6,0.06),(41.1,0.02),(41.6,0.07),(42.1,0.0),(42.6,0.05),(43.1,0.02),(43.6,0.06),(44.1,0.01),(44.6,0.05),(45.1,0.03),(45.4,0.35),(45.45,-0.45),(45.52,0.05),(46.0,0.02),(46.5,0.07),(47.0,0.0),(47.5,0.05),(48.0,0.02),(48.5,0.06),(49.0,0.01),(49.5,0.05),(50.0,0.02),(50.35,0.55),(50.4,-0.5),(50.46,0.05),(51.0,0.02),(51.5,0.07),(52.0,0.0),(52.5,0.05),(53.0,0.02),(53.5,0.06),(54.0,0.01),(54.5,0.05),(55.0,0.02),(55.4,0.1),(55.5,0.95),(55.58,0.35),(55.8,0.1),(56.3,0.04),(56.8,0.07),(57.3,0.0),(57.8,0.05),(58.3,0.02),(58.8,0.06),(59.3,0.01),(59.8,0.05),(60.0,0.03)]

B_MB_T = [(0.0,21.05),(0.4,20.9),(0.8,20.6),(1.5,20.5),(2.3,20.8),(3.2,21.0),(4.0,20.7),(4.8,20.6),(5.2,20.8),(5.28,23.5),(5.32,26.2),(5.4,25.0),(5.5,24.4),(5.65,23.4),(5.85,22.6),(6.0,22.2),(6.3,21.3),(7.0,20.9),(7.8,20.9),(8.6,20.6),(9.2,20.8),(9.26,24.0),(9.3,27.4),(9.38,25.6),(9.5,24.5),(9.65,23.5),(9.8,22.9),(10.0,22.0),(10.3,21.2),(11.0,20.7),(12.0,20.9),(13.0,21.0),(14.2,20.8),(14.9,21.0),(14.96,24.2),(15.0,28.3),(15.08,26.3),(15.2,24.8),(15.35,23.4),(15.55,22.7),(15.75,22.2),(16.0,21.2),(17.0,20.7),(18.0,20.6),(19.3,20.8),(19.95,21.0),(20.01,24.5),(20.05,28.0),(20.13,26.2),(20.25,24.6),(20.4,23.3),(20.6,22.5),(20.8,21.9),(21.0,21.0),(22.0,20.6),(23.0,20.7),(24.2,20.8),(25.0,20.9),(25.06,23.6),(25.1,26.4),(25.18,25.0),(25.3,23.8),(25.45,22.6),(25.65,22.0),(26.1,21.3),(27.0,20.8),(28.0,20.8),(29.2,20.9),(30.05,21.0),(30.11,24.5),(30.15,28.0),(30.23,26.0),(30.35,24.2),(30.5,22.9),(30.7,22.2),(31.0,21.3),(32.0,21.1),(33.0,20.9),(34.0,20.6),(34.8,20.5),(35.4,20.7),(35.46,23.2),(35.5,25.7),(35.58,24.6),(35.7,23.4),(35.85,22.6),(36.1,21.8),(36.5,21.0),(37.5,20.6),(38.5,20.4),(39.5,20.5),(40.2,20.7),(40.26,23.8),(40.3,27.1),(40.38,25.4),(40.5,23.8),(40.65,22.8),(40.85,22.2),(41.3,21.4),(42.3,20.8),(43.5,20.7),(44.5,20.6),(45.35,20.8),(45.41,24.0),(45.45,27.2),(45.53,25.6),(45.65,24.0),(45.8,22.8),(46.0,22.0),(46.5,20.9),(47.5,20.7),(48.5,21.0),(49.5,21.1),(50.3,21.0),(50.36,24.8),(50.4,28.8),(50.48,26.6),(50.6,24.4),(50.75,23.0),(50.95,22.2),(51.4,21.3),(52.5,21.0),(53.5,20.6),(54.5,20.7),(55.45,20.8),(55.51,23.6),(55.55,26.5),(55.63,25.0),(55.75,23.6),(55.9,22.6),(56.1,21.8),(56.7,21.0),(57.5,20.6),(58.5,20.6),(59.5,20.5),(60.0,20.5)]

B_MC_V = [(0.0,0.02),(0.5,0.06),(1.0,-0.03),(1.5,0.04),(2.0,0.0),(2.5,0.07),(3.0,-0.02),(3.5,0.05),(4.0,-0.04),(4.5,0.03),(5.0,0.0),(5.5,0.05),(5.65,-0.1),(5.7,0.28),(5.76,-0.06),(6.0,0.04),(6.5,-0.02),(7.0,0.06),(7.5,-0.03),(8.0,0.04),(8.5,0.0),(9.0,0.06),(9.5,-0.04),(10.0,0.03),(10.5,-0.05),(10.6,0.22),(10.68,-0.04),(11.0,0.05),(11.5,-0.02),(12.0,0.04),(12.5,-0.03),(13.0,0.06),(13.5,0.0),(14.0,-0.06),(14.5,0.03),(15.0,0.0),(15.65,0.22),(15.72,-0.08),(16.0,0.04),(16.5,-0.03),(17.0,0.05),(17.5,-0.02),(18.0,0.04),(18.5,-0.12),(19.0,0.03),(19.5,-0.02),(20.0,0.05),(20.45,-0.1),(20.5,0.25),(20.56,-0.05),(21.0,0.04),(21.5,-0.03),(22.0,0.06),(22.5,0.0),(23.0,-0.04),(23.5,0.05),(24.0,-0.02),(24.5,0.04),(25.0,-0.03),(25.5,0.22),(25.58,-0.06),(26.0,0.04),(26.5,-0.02),(27.0,0.05),(27.5,-0.04),(28.0,0.03),(28.5,0.0),(29.0,0.06),(29.5,-0.03),(30.0,0.04),(30.45,0.2),(30.52,-0.05),(31.0,0.04),(31.5,-0.03),(32.0,0.05),(32.5,0.0),(33.0,-0.04),(33.5,0.04),(34.0,-0.02),(34.5,0.05),(35.0,-0.03),(35.45,0.15),(35.52,-0.15),(35.6,0.04),(36.0,-0.02),(36.5,0.05),(37.0,-0.03),(37.5,0.04),(38.0,0.0),(38.5,0.06),(39.0,-0.04),(39.5,0.03),(40.0,0.0),(40.35,0.1),(40.4,-0.3),(40.46,0.05),(41.0,-0.02),(41.5,0.05),(42.0,-0.03),(42.5,0.04),(43.0,0.0),(43.5,0.06),(44.0,-0.04),(44.5,0.03),(45.0,0.0),(45.55,0.2),(45.62,-0.06),(46.0,0.04),(46.5,-0.02),(47.0,0.05),(47.5,-0.04),(48.0,0.03),(48.5,0.0),(49.0,0.05),(49.5,-0.03),(50.0,0.04),(50.38,0.2),(50.45,-0.08),(51.0,0.04),(51.5,-0.02),(52.0,0.05),(52.5,-0.03),(53.0,0.04),(53.5,0.0),(54.0,0.06),(54.5,-0.04),(55.0,0.03),(55.5,-0.05),(55.65,0.18),(55.72,-0.06),(56.0,0.04),(56.5,-0.02),(57.0,0.05),(57.5,-0.03),(58.0,0.04),(58.5,0.0),(59.0,0.06),(59.5,-0.02),(60.0,0.03)]

B_MC_T = [(0.0,21.2),(0.5,21.05),(1.5,20.9),(2.5,20.9),(3.5,20.7),(4.5,20.8),(5.3,20.67),(5.62,21.2),(5.66,24.5),(5.7,28.4),(5.78,26.8),(5.88,25.0),(6.0,23.8),(6.15,22.8),(6.4,21.9),(6.8,21.2),(7.2,21.05),(8.2,21.15),(9.2,20.85),(10.1,20.8),(10.52,21.0),(10.56,23.5),(10.6,27.0),(10.68,25.6),(10.8,24.0),(10.95,22.8),(11.2,21.8),(11.5,20.85),(12.3,20.3),(13.5,20.7),(14.5,21.05),(15.2,21.1),(15.62,21.3),(15.66,24.0),(15.7,27.6),(15.78,26.2),(15.9,24.6),(16.05,23.2),(16.3,22.2),(16.7,21.15),(17.5,20.5),(18.3,21.15),(19.3,21.05),(20.1,20.9),(20.42,21.2),(20.46,24.5),(20.5,28.2),(20.58,26.4),(20.7,24.2),(20.85,22.8),(21.1,21.8),(21.5,20.85),(22.5,21.05),(23.5,21.15),(24.5,21.25),(25.1,21.1),(25.42,21.3),(25.46,23.8),(25.5,26.6),(25.58,25.0),(25.7,23.6),(25.85,22.8),(26.1,22.2),(26.5,21.3),(27.5,20.85),(28.3,20.35),(29.2,20.4),(30.1,20.6),(30.42,20.9),(30.46,23.0),(30.5,25.5),(30.58,24.3),(30.7,23.0),(30.85,22.2),(31.1,21.6),(31.5,21.1),(32.5,20.85),(33.5,20.85),(34.3,20.4),(35.1,20.5),(35.42,20.8),(35.46,22.5),(35.5,24.0),(35.58,23.2),(35.7,22.3),(35.9,21.6),(36.5,20.7),(37.3,21.05),(38.2,21.15),(39.2,21.15),(40.0,20.8),(40.32,21.0),(40.36,24.8),(40.4,28.8),(40.48,26.6),(40.6,24.3),(40.75,22.8),(41.0,21.3),(41.5,21.15),(42.5,21.0),(43.3,20.5),(44.2,20.4),(45.2,20.6),(45.52,20.8),(45.56,23.2),(45.6,25.5),(45.68,24.3),(45.8,23.0),(45.95,22.0),(46.5,20.4),(47.2,20.5),(48.0,20.4),(49.0,20.67),(50.0,20.8),(50.32,20.9),(50.36,23.6),(50.4,26.6),(50.48,25.0),(50.6,23.5),(50.75,22.6),(51.0,21.8),(51.3,20.85),(52.2,20.67),(53.0,20.85),(54.0,20.5),(54.8,20.67),(55.5,20.7),(55.62,21.0),(55.66,24.0),(55.7,27.2),(55.78,25.6),(55.9,23.8),(56.05,22.6),(56.3,21.6),(56.7,20.35),(57.5,20.35),(58.5,20.2),(59.3,20.35),(60.0,20.2)]

# annotation anchors in data units (time s, velocity m/s)
TITLE_POS = [(57.4, 15.76), (58.1, 15.76)]
NAME_POS_A = [(58.6, 13.48), (55.5, 5.19), (55.5, 3.72), (55.8, 3.9)]
NAME_POS_B = [(57.8, 13.48), (57.2, 3.9), (57.2, 5.15), (57.4, 4.42)]

# ---------------- layout ----------------
K = 21.1      # px per m/s (same in every panel)
W = 431
DOM_A = [(-0.5, 15), (-0.68, 5.9), (-0.1, 5.61), (-2.5, 6.3)]
DOM_B = [(-0.5, 15), (-0.78, 6.04), (-0.48, 5.68), (-2.6, 6.04)]

LAB = dict(labelFont=FONT, labelFontSize=14, labelColor=INK)
TTL = dict(titleFont=FONT, titleFontWeight="normal", titleColor=INK)

# legend glyph: a horizontal stroke ~51 px long
LEGEND_GLYPH = "M-2.5,0H2.5"


def make_legend(lx, ly):
    return alt.Legend(title=None, orient="none", legendX=lx, legendY=ly, direction="vertical",
                      symbolType=LEGEND_GLYPH, symbolSize=416, symbolStrokeWidth=2.4,
                      labelFont=FONT, labelFontSize=17.5, labelColor=INK, labelOffset=29,
                      rowPadding=5.5, padding=0)


def make_panel(vel, temp, dom, name, name_pos, legend, title=None, title_pos=None,
               bottom=False, left_title=None, right_title=None):
    lo, hi = dom
    H = (hi - lo) * K
    xs = alt.Scale(domain=[0, 60], nice=False, zero=False)
    vs = alt.Scale(domain=[lo, hi], nice=False, zero=False)
    ts = alt.Scale(domain=[20 + 2 * lo, 20 + 2 * hi], nice=False, zero=False)
    if bottom:
        xaxis = alt.Axis(values=TIME_TICKS, ticks=False, tickSize=0, grid=False, domainColor=INK,
                         labelPadding=13, labelFlush=False, title="Time s", titleAnchor="end",
                         titleAlign="right", titleX=W + 8, titleY=53, titleBaseline="alphabetic",
                         titleFontSize=21, **TTL, **LAB)
    else:
        xaxis = None
    laxis = alt.Axis(orient="left", values=[v for v in V_LABELS if lo <= v <= hi], ticks=False,
                     tickSize=0, grid=False, domainColor=INK, labelPadding=10,
                     title=left_title, titlePadding=13, titleFontSize=23, **LAB, **TTL)
    raxis = alt.Axis(orient="right", values=[T for T in T_LABELS if 20 + 2 * lo <= T <= 20 + 2 * hi],
                     ticks=False, tickSize=0, grid=False, domainColor=INK, labelPadding=8,
                     title=right_title, titlePadding=3, titleAngle=270, titleBaseline="top",
                     titleFontSize=22, **LAB, **TTL)
    color = alt.Color("s:N", scale=alt.Scale(domain=SERIES, range=[RED, BLUE]), legend=legend)
    dash = alt.StrokeDash("s:N", scale=alt.Scale(domain=SERIES, range=[[1, 0], [6, 3.5]]), legend=legend)
    X = alt.X("t:Q", scale=xs, axis=xaxis)
    Yv = alt.Y("v:Q", scale=vs, axis=laxis)

    dv = pd.DataFrame(vel, columns=["t", "v"]).assign(s="Velocity")
    dt = pd.DataFrame(temp, columns=["t", "T"]).assign(s="Temperature")
    vline = alt.Chart(dv).mark_line(strokeWidth=2.2, clip=True).encode(x=X, y=Yv, color=color, strokeDash=dash)
    tline = alt.Chart(dt).mark_line(strokeWidth=2.8, clip=True).encode(
        x=X, y=alt.Y("T:Q", scale=ts, axis=raxis), color=color, strokeDash=dash)

    tk = pd.DataFrame({"v": [v for v in V_TICKS if lo - 1e-9 <= v <= hi + 1e-9]})
    tl = alt.Chart(tk).mark_rule(color=INK, strokeWidth=1.2).encode(y=Yv, x=alt.value(0), x2=alt.value(7))
    tr = alt.Chart(tk).mark_rule(color=INK, strokeWidth=1.2).encode(y=Yv, x=alt.value(W - 7), x2=alt.value(W))

    nm = pd.DataFrame([{"t": name_pos[0], "v": name_pos[1], "txt": name}])
    nt = alt.Chart(nm).mark_text(align="right", baseline="alphabetic", font=FONT, fontSize=24,
                                 color=INK).encode(x=X, y=Yv, text="txt:N")
    layers = [vline, tl, tr, nt]
    if title is not None:
        td = pd.DataFrame([{"t": title_pos[0], "v": title_pos[1], "txt": title}])
        layers.append(alt.Chart(td).mark_text(align="right", baseline="alphabetic", font=FONT,
                                              fontSize=29, color=INK).encode(x=X, y=Yv, text="txt:N"))
    if bottom:
        bt = pd.DataFrame({"t": TIME_TICKS})
        layers.append(alt.Chart(bt).mark_rule(color=INK, strokeWidth=1.2).encode(
            x=X, y=alt.value(H - 7), y2=alt.value(H)))
    inner = alt.layer(*layers)
    return alt.layer(inner, tline).resolve_scale(y="independent").properties(width=W, height=H)


legA = make_legend(51, -23)
legB = make_legend(81, -16)

A_DATA = [(A_NM_V, A_NM_T), (A_MA_V, A_MA_T), (A_MB_V, A_MB_T), (A_MC_V, A_MC_T)]
B_DATA = [(B_NM_V, B_NM_T), (B_MA_V, B_MA_T), (B_MB_V, B_MB_T), (B_MC_V, B_MC_T)]

colA = alt.vconcat(*[
    make_panel(A_DATA[i][0], A_DATA[i][1], DOM_A[i], PANEL_NAMES[i], NAME_POS_A[i], legA,
               title=COLUMN_TITLES[0] if i == 0 else None, title_pos=TITLE_POS[0],
               bottom=(i == 3), left_title="Velocity\u00a0\u00a0m/s" if i == 1 else None)
    for i in range(4)], spacing=23, bounds="flush")

colB = alt.vconcat(*[
    make_panel(B_DATA[i][0], B_DATA[i][1], DOM_B[i], PANEL_NAMES[i], NAME_POS_B[i], legB,
               title=COLUMN_TITLES[1] if i == 0 else None, title_pos=TITLE_POS[1],
               bottom=(i == 3), right_title="Temperature °C" if i == 1 else None)
    for i in range(4)], spacing=20, bounds="flush")

chart = alt.hconcat(colA, colB, spacing=100).resolve_scale(
    color="independent", strokeDash="independent"
).properties(padding={"left": 3, "top": 3, "right": 0, "bottom": 0}).configure_view(stroke=None)

chart.save("out.html", embed_options={"renderer": "svg", "actions": False})
